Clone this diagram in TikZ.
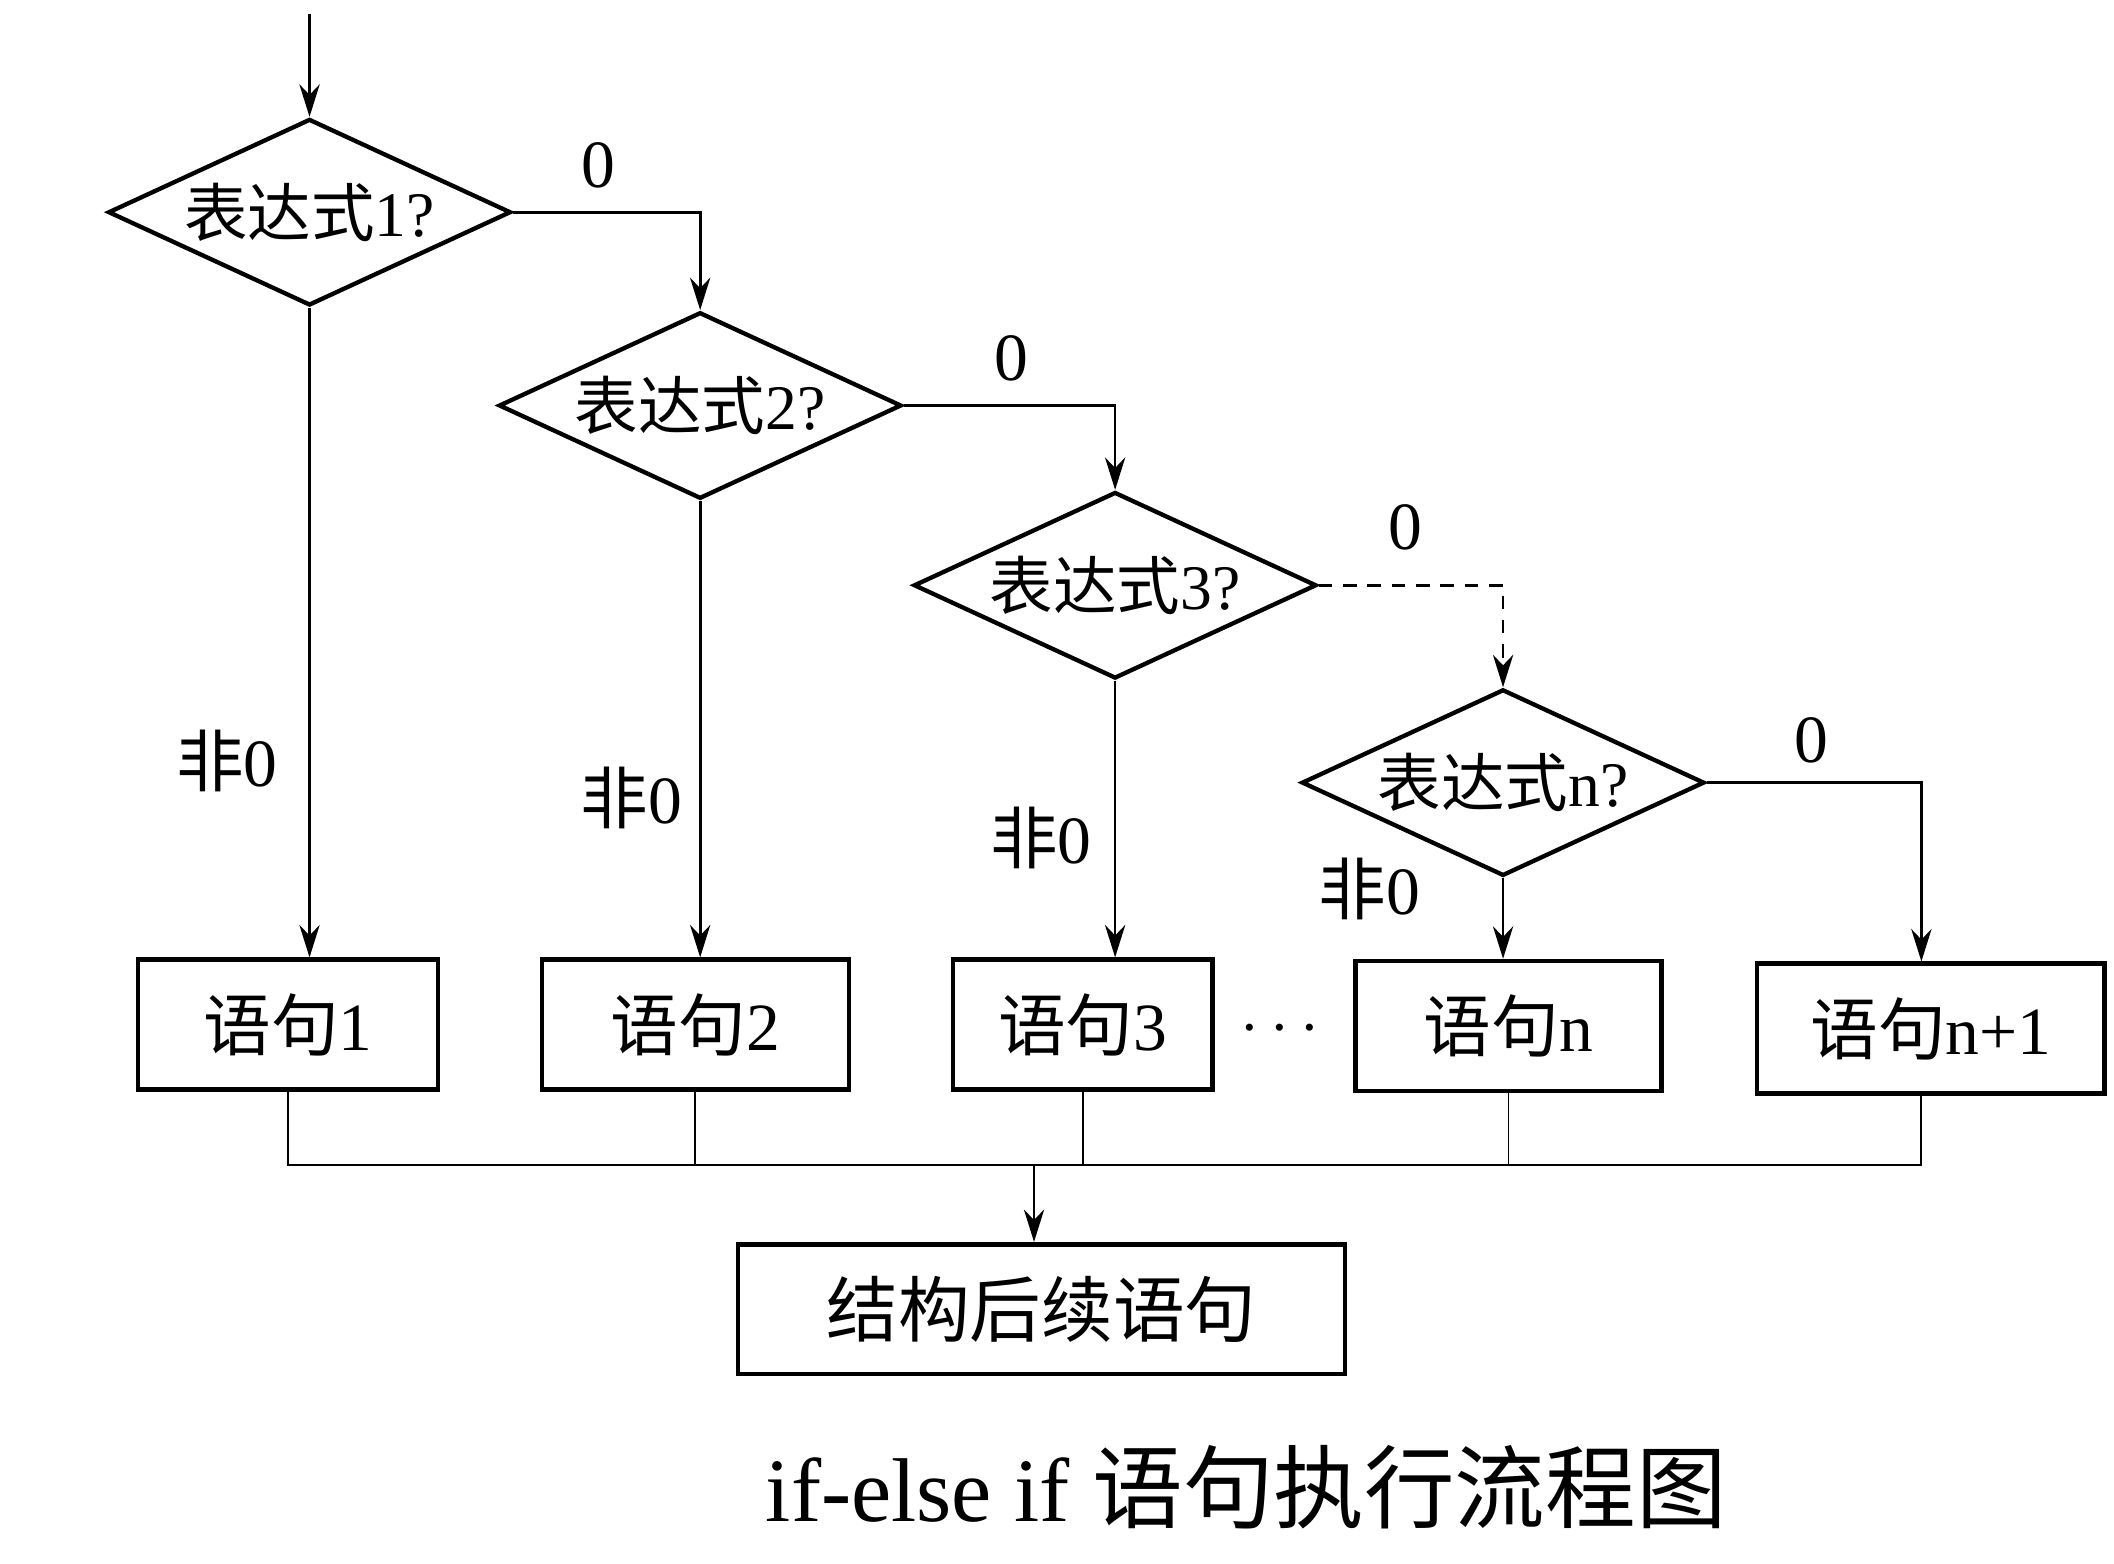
\documentclass[tikz,border=0pt]{standalone}
\usepackage{fontspec}
\setmainfont{Liberation Serif}
\newfontfamily\cjk{Noto Sans CJK SC}
\usetikzlibrary{shapes.geometric,arrows.meta}
\begin{document}
\begin{tikzpicture}[x=0.5pt,y=-0.5pt,
  dec/.style={diamond,draw,line width=1.6pt,aspect=2.16,inner sep=-2pt,
     minimum width=149pt,minimum height=69pt,font=\fontsize{23.5}{23.5}\selectfont},
  stmt/.style={rectangle,draw,line width=1.7pt,minimum height=48pt,inner sep=0pt,
     font=\fontsize{25}{25}\selectfont},
  conn/.style={line width=1pt,-{Stealth[length=12pt,width=7.5pt]}},
  joinline/.style={line width=0.7pt},
  lbl/.style={font=\fontsize{25}{25}\selectfont,inner sep=0pt}]
\useasboundingbox (0,0) rectangle (1564,1157);
% decisions
\node[dec] (d1) at (229,157) {{\cjk 表达式}1?};
\node[dec] (d2) at (518,300) {{\cjk 表达式}2?};
\node[dec] (d3) at (825,433) {{\cjk 表达式}3?};
\node[dec] (dn) at (1112,579) {{\cjk 表达式}n?};
% statements
\node[stmt,minimum width=111pt] (b1) at (213,758) {{\cjk 语句}1};
\node[stmt,minimum width=113.5pt] (b2) at (514.5,758) {{\cjk 语句}2};
\node[stmt,minimum width=96pt] (b3) at (801,758) {{\cjk 语句}3};
\node[stmt,minimum width=113pt] (bn) at (1116,759) {{\cjk 语句}n};
\node[stmt,minimum width=128.5pt] (bn1) at (1428.5,761) {{\cjk 语句}n+1};
\node[stmt,minimum width=224.5pt,font=\fontsize{26.5}{26.5}\selectfont] (fin) at (770.5,968.5) {\cjk 结构后续语句};
% start
\coordinate (start) at (229,10);
\draw[conn] (start) -- (d1.north);
% zero branches
\draw[conn] (d1.east) -| (d2.north);
\draw[conn] (d2.east) -| (d3.north);
\draw[conn,dash pattern=on 5pt off 4pt] (d3.east) -| (dn.north);
\coordinate (n1top) at ([xshift=-3.5pt]bn1.north);
\draw[conn] (dn.east) -| (n1top);
% nonzero branches
\draw[conn] (d1.south) -- (d1.south |- b1.north);
\draw[conn] (d2.south) -- (d2.south |- b2.north);
\draw[conn] (d3.south) -- (d3.south |- b3.north);
\draw[conn] (dn.south) -- (dn.south |- bn.north);
% joining
\coordinate (jn) at (765,862);
\draw[joinline] (b1.south) -- (b1.south |- jn) -- (n1top |- jn) -- (n1top |- bn1.south);
\draw[joinline] (b2.south) -- (b2.south |- jn);
\draw[joinline] (b3.south) -- (b3.south |- jn);
\draw[joinline] (bn.south) -- (bn.south |- jn);
\draw[conn] (jn) -- (jn |- fin.north);
% labels
\node[lbl] (z1) at (443,122) {0};
\node[lbl] (z2) at (748,265) {0};
\node[lbl] (z3) at (1040,390) {0};
\node[lbl] (z4) at (1340,548) {0};
\node[lbl] (n1) at (168,563) {{\cjk 非}0};
\node[lbl] (n2) at (467,590) {{\cjk 非}0};
\node[lbl] (n3) at (770,620) {{\cjk 非}0};
\node[lbl] (n4) at (1013,658) {{\cjk 非}0};
\node[lbl] (dots) at (947,762) {$\cdots$};
\node[font=\fontsize{33.5}{33.5}\selectfont,inner sep=0pt] (title) at (922,1100) {if-else if {\cjk 语句执行流程图}};
\end{tikzpicture}
\end{document}
